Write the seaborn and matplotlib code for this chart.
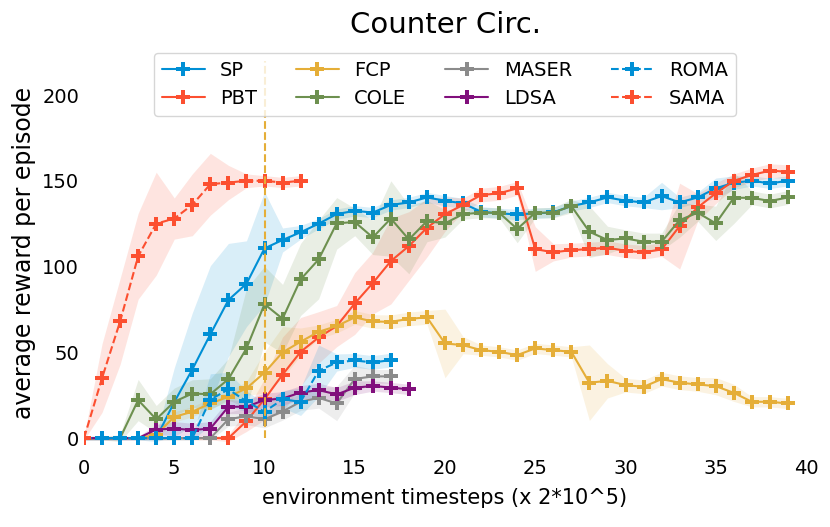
import seaborn as sns
import matplotlib
matplotlib.use("Agg")
import matplotlib.pyplot as plt

# x axis: environment timesteps (x 2*10^5)
steps = list(range(40))

sp = [0, 0, 0, 0, 0, 21, 40, 60.5, 80.5, 90, 110.6, 115.5, 120, 125, 130.6,
      132.5, 131.5, 135.9, 137.4, 140.3, 138.4, 136.8, 132, 131, 130.4,
      131, 131.6, 135.3, 137.4, 140.3, 138.4, 137.4, 141.1, 137.4, 140.3,
      145.6, 148.9, 150, 148.5, 150]
sp_std = [1, 1, 1, 1, 2, 20, 33, 40, 33, 25, 33, 7, 4, 3, 3, 3, 3, 3, 3, 3,
          3, 3, 3, 3, 3, 3, 3, 3, 3, 3, 3, 3, 8, 3, 3, 6, 4, 3, 3, 3]

pbt = [0, 0, 0, 0, 0, 0, 0, 0, 0, 9.9, 22.7, 37, 50.3, 58.7, 65.3, 78.5,
       90.4, 103.2, 112, 122.6, 130.6, 135.9, 141.7, 142.7, 145.6, 110.2,
       108.3, 109.6, 110.2, 111, 109.2, 108.3, 110, 123.6, 134.5, 142.7,
       150, 153.4, 155.9, 155.3]
pbt_std = [1, 1, 1, 1, 1, 1, 1, 1, 2, 6, 12, 22, 20, 15, 12, 18, 18, 25, 20,
           17, 10, 4, 4, 4, 4, 13, 5, 4, 4, 4, 4, 4, 4, 25, 8, 6, 4, 4, 4, 4]

fcp = [0, 0, 0, 0, 2, 12.4, 15.4, 20.2, 24.1, 29, 38.2, 50, 56.2, 62, 65.3,
       70.4, 68, 67.8, 69.5, 70.4, 55.2, 54.2, 51.3, 50.3, 48.4, 52.3, 51.3,
       50.3, 32.3, 33.4, 30.9, 29.9, 34.4, 32.3, 31.3, 30.3, 26.4, 21.2,
       21.2, 20.2]
fcp_std = [0, 0, 0, 0, 2, 3, 3, 3, 3, 4, 12, 15, 8, 4, 4, 4, 4, 4, 4, 4, 20,
           5, 3, 3, 3, 3, 3, 3, 22, 10, 4, 4, 4, 4, 4, 5, 5, 3, 3, 3]

cole = [0, 0, 0, 22.2, 11, 21.2, 26, 25.6, 34.4, 52.3, 78.1, 69.6, 92.5,
        104.2, 125.2, 126, 117, 128, 115.8, 126.5, 125.2, 130.6, 131.4,
        131.4, 121.9, 131.4, 131.4, 135.3, 120.3, 115.5, 116.4, 114.5, 114.5,
        127.1, 131.4, 125.2, 140.1, 140.1, 138.2, 140.3]
cole_std = [1, 1, 2, 12, 8, 8, 8, 9, 12, 35, 22, 20, 21, 23, 15, 8, 10, 22,
            20, 12, 8, 3, 3, 3, 8, 3, 3, 4, 15, 8, 5, 5, 5, 10, 5, 10, 15, 4,
            4, 4]

maser = [0, 0, 0, 0, 0, 0, 0, 0, 11, 12.8, 11, 15.5, 21.2, 23.5, 20.2, 34.5,
         36, 36]
maser_std = [1, 1, 1, 1, 1, 1, 1, 1, 4, 5, 5, 5, 5, 6, 10, 8, 4, 4]

ldsa = [0, 0, 0, 0, 5, 5.6, 4.7, 5.6, 18.3, 18.3, 22.2, 23.1, 26.6, 28, 25.5,
        29.4, 30.4, 29.5, 28.4]
ldsa_std = [1, 1, 1, 1, 3, 4, 4, 4, 4, 4, 4, 4, 4, 4, 4, 4, 3, 3, 3]

roma = [0, 0, 0, 0, 0, 0, 0, 22.5, 28.4, 21.5, 15.4, 22.6, 21.2, 39.3, 44.1,
        45.3, 44.1, 45.5]
roma_std = [1, 1, 1, 1, 1, 1, 1, 15, 10, 6, 5, 5, 8, 15, 5, 4, 4, 4]

sama = [0, 35, 68, 106, 125, 128, 136, 148, 149, 150, 150, 149, 150]
sama_std = [1, 20, 25, 25, 30, 12, 18, 18, 10, 4, 3, 3, 3]

names = ["SP", "PBT", "FCP", "COLE", "MASER", "LDSA", "ROMA", "SAMA"]
means = [sp, pbt, fcp, cole, maser, ldsa, roma, sama]
stds = [sp_std, pbt_std, fcp_std, cole_std, maser_std, ldsa_std, roma_std,
        sama_std]
colors = ["#008FD5", "#FC4F30", "#E5AE38", "#6D904F", "#8B8B8B", "#810F7C",
          "#008FD5", "#FC4F30"]
styles = ["-", "-", "-", "-", "-", "-", "--", "--"]

sns.set_style("white")
plt.rcParams["font.family"] = ["DejaVu Sans"]
plt.rcParams["text.color"] = "black"
plt.rcParams["axes.labelcolor"] = "black"
plt.rcParams["xtick.color"] = "black"
plt.rcParams["ytick.color"] = "black"

fig = plt.figure(figsize=(8.3, 5.27), dpi=100)
ax = fig.add_axes([0.1012, 0.1556, 0.8699, 0.7292])

for name, m, s, c, ls in zip(names, means, stds, colors, styles):
    xs = steps[:len(m)]
    lo = [a - b for a, b in zip(m, s)]
    hi = [a + b for a, b in zip(m, s)]
    ax.fill_between(xs, lo, hi, color=c, alpha=0.15, linewidth=0)
    sns.lineplot(x=xs, y=m, ax=ax, color=c, linestyle=ls, linewidth=1.5,
                 marker="P", markersize=9.5, markeredgewidth=0,
                 markeredgecolor=c, label=name)

ax.vlines(10, 0, 220, colors="#E5AE38", linestyles="--", linewidth=1.5)

ax.set_xlim(0, 40)
ax.set_ylim(-4, 220)
ax.set_xticks([0, 5, 10, 15, 20, 25, 30, 35, 40])
ax.set_yticks([0, 50, 100, 150, 200])
ax.tick_params(labelsize=14, length=0)
ax.tick_params(axis="x", pad=10)
sns.despine(ax=ax, left=True, bottom=True)

ax.set_title("Counter Circ.", fontsize=21, pad=20)
ax.set_xlabel("environment timesteps (x 2*10^5)", fontsize=15, labelpad=7)
ax.set_ylabel("average reward per episode", fontsize=17)

ax.legend(loc="upper center", bbox_to_anchor=(0.5, 1.046), ncol=4,
          fontsize=14, frameon=True, handlelength=2.2)

fig.savefig("out.png", dpi=100)
